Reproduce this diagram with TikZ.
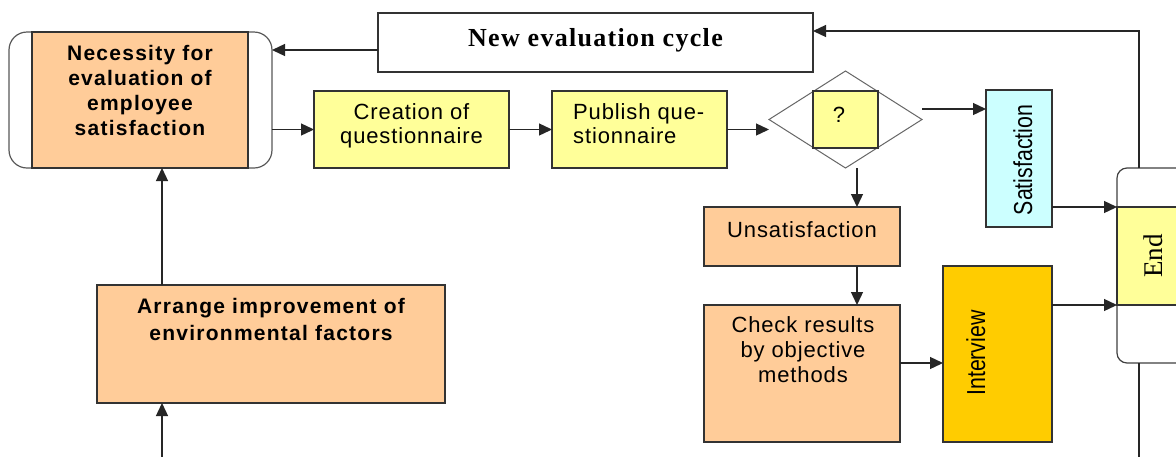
\documentclass[tikz,border=0pt]{standalone}
\usepackage{fontspec}
\usetikzlibrary{arrows.meta,shapes.geometric,calc}
\newfontfamily\sfsp{Liberation Sans}[LetterSpace=4]
\newfontfamily\sfbsp{Liberation Sans}[LetterSpace=6]
\newfontfamily\sfnarrow{Liberation Sans}[FakeStretch=0.82]
\newfontfamily\serifsp{Liberation Serif}[LetterSpace=5]
\newfontfamily\serifplain{Liberation Serif}
\definecolor{peach}{HTML}{FFCC99}
\definecolor{lyellow}{HTML}{FFFF99}
\definecolor{lcyan}{HTML}{CCFFFF}
\definecolor{gold}{HTML}{FFCC00}
\tikzset{
  box/.style={draw=black!80, line width=1.3pt, inner sep=0pt, outer sep=0pt},
  arr/.style={draw=black!85, line width=1.3pt, -{Triangle[length=13pt,width=12pt]}},
  ln/.style={draw=black!85, line width=1.3pt},
  btext/.style={font=\sfbsp\bfseries\fontsize{21}{25}\selectfont, align=center, inner sep=0pt},
  rtext/.style={font=\sfsp\fontsize{22}{25}\selectfont, align=center, inner sep=0pt},
  vtext/.style={font=\sfnarrow\fontsize{26}{28}\selectfont, inner sep=0pt, rotate=90, anchor=base},
}
\begin{document}
\begin{tikzpicture}[x=1pt,y=-1pt]
\useasboundingbox (0,0) rectangle (1176,456);
\clip (0,0) rectangle (1176,456);
\fill[white] (0,0) rectangle (1176,456);
% boxes
\node[box, draw=black!65, line width=1.2pt, rounded corners=18pt, fill=white, minimum width=263pt, minimum height=136pt] (necout) at (140.5,100) {};
\node[box, fill=peach, minimum width=216pt, minimum height=136pt] (necin) at (140,100) {};
\node[btext] (necT) at (140,90) {Necessity for\\evaluation of\\employee\\satisfaction};

\node[box, fill=white, minimum width=435pt, minimum height=59pt] (newcyc) at (595.5,42.5) {};
\node[font=\serifsp\bfseries\fontsize{26}{28}\selectfont, inner sep=0pt, anchor=base] (newcycT) at (595.5,46) {New evaluation cycle};

\node[box, fill=lyellow, minimum width=195pt, minimum height=77pt] (creation) at (411.5,129.5) {};
\node[rtext, font=\sfsp\fontsize{22}{24}\selectfont] (creationT) at (411.5,126) {Creation of\\questionnaire};

\node[box, fill=lyellow, minimum width=175pt, minimum height=77pt] (publish) at (639.5,129.5) {};
\node[rtext, font=\sfsp\fontsize{22}{24}\selectfont, align=left, anchor=west] (publishT) at (573,124) {Publish que-\\stionnaire};

\node[diamond, draw=black!60, line width=1pt, inner sep=0pt, outer sep=0pt, minimum width=153pt, minimum height=97pt] (diam) at (845.5,119.5) {};
\node[box, fill=lyellow, minimum width=65pt, minimum height=57pt] (qbox) at (845.5,119.5) {};
\node[rtext] (qT) at (839,115) {?};

\node[box, fill=lcyan, minimum width=66pt, minimum height=137pt] (sat) at (1019,158.5) {};
\node[vtext] (satT) at (1032,160) {Satisfaction};

\node[box, fill=peach, minimum width=196pt, minimum height=59pt] (unsat) at (802,236.5) {};
\node[rtext, anchor=base] (unsatT) at (802,237) {Unsatisfaction};

\node[box, fill=peach, minimum width=196pt, minimum height=137pt] (check) at (802,373.5) {};
\node[rtext] (checkT) at (803,350) {Check results\\by objective\\methods};

\node[box, fill=gold, minimum width=109pt, minimum height=176pt] (intv) at (997.5,354) {};
\node[vtext] (intvT) at (985,353) {Interview};

\node[box, draw=black!75, line width=1.2pt, rounded corners=10pt, fill=white, minimum width=133pt, minimum height=195pt] (endout) at (1183.5,265.5) {};
\node[box, fill=lyellow, minimum width=133pt, minimum height=98pt] (endin) at (1183.5,256) {};
\node[font=\serifplain\fontsize{27}{30}\selectfont, inner sep=0pt, rotate=90, anchor=base] (endT) at (1162,256) {End};

\node[box, fill=peach, minimum width=348pt, minimum height=118pt] (arrange) at (271,344) {};
\node[btext, font=\sfbsp\bfseries\fontsize{21}{27}\selectfont] (arrangeT) at (271,319) {Arrange improvement of\\environmental factors};

% helper coordinates
\coordinate (vx) at (857,0);
\coordinate (lx) at (162,0);
\coordinate (rx) at (1139,0);
\coordinate (bot) at (0,470);

% connectors
\draw[arr] (newcyc.west |- 0,50) -- (necout.east |- 0,50);
\draw[arr] (necout.east |- creation.west) -- (creation.west);
\draw[arr] (creation.east) -- (publish.west);
\draw[arr] (publish.east) -- (publish.east -| diam.west);
\draw[arr] (diam.east |- 0,109) -- (sat.west |- 0,109);
\draw[arr] (diam.south -| vx) -- (unsat.north -| vx);
\draw[arr] (unsat.south -| vx) -- (check.north -| vx);
\draw[arr] (check.east |- 0,363) -- (intv.west |- 0,363);
\draw[arr] (intv.east |- endin.south west) -- (endin.south west);
\draw[arr] (sat.east |- endin.north west) -- (endin.north west);
\draw[arr] (endout.north -| rx) |- (newcyc.east |- 0,31);
\draw[ln] (endout.south -| rx) -- (rx |- bot);
\draw[arr] (arrange.north -| lx) -- (necout.south -| lx);
\draw[arr] (lx |- bot) -- (arrange.south -| lx);
\end{tikzpicture}
\end{document}
